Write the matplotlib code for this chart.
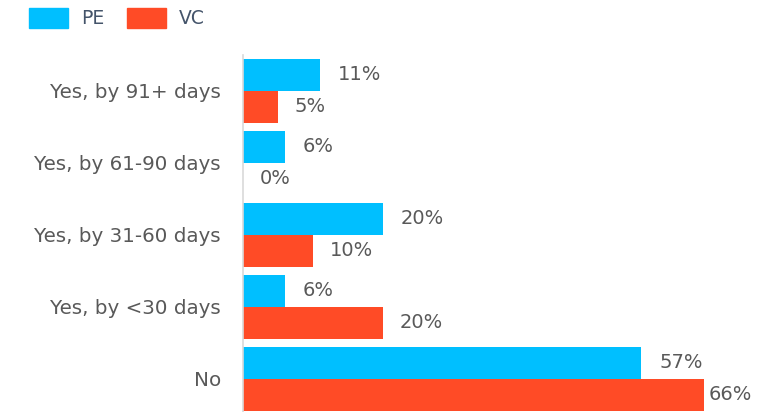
import matplotlib
matplotlib.use('Agg')
import matplotlib.pyplot as plt
from matplotlib.patches import Patch
import numpy as np

categorias = ['Yes, by 91+ days', 'Yes, by 61-90 days', 'Yes, by 31-60 days',
              'Yes, by <30 days', 'No']
pe = [11, 6, 20, 6, 57]
vc = [5, 0, 10, 20, 66]

cor_pe = '#00BFFF'
cor_vc = '#FF4B26'
cinza = '#595959'

fig = plt.figure(figsize=(7.79, 4.12), dpi=100)
ax = fig.add_axes([0.312, -0.007, 0.672, 0.874])

y = np.arange(len(categorias))
h = 0.444
ax.barh(y - h / 2, pe, height=h, color=cor_pe)
ax.barh(y + h / 2, vc, height=h, color=cor_vc)

xmax = 75
ax.set_xlim(0, xmax)
ax.set_ylim(len(categorias) - 0.5, -0.5)

# rotulos de valor; o ultimo fica encostado na borda direita
for i in range(len(categorias)):
    ax.text(pe[i] + 2.6, y[i] - h / 2, '%d%%' % pe[i], va='center', ha='left',
            fontsize=14, color=cinza)
    xv = min(vc[i] + 2.4, 66.7)
    ax.text(xv, y[i] + h / 2, '%d%%' % vc[i], va='center', ha='left',
            fontsize=14, color=cinza)

ax.set_yticks(y)
ax.set_yticklabels(categorias, fontsize=14.3, color=cinza)
ax.tick_params(axis='y', length=0, pad=16)
ax.set_xticks([])
for s in ['top', 'right', 'bottom']:
    ax.spines[s].set_visible(False)
ax.spines['left'].set_color('#D9D9D9')
ax.spines['left'].set_linewidth(1.2)

handles = [Patch(color=cor_pe, label='PE'), Patch(color=cor_vc, label='VC')]
fig.legend(handles=handles, loc='upper left', bbox_to_anchor=(0.0156, 1.022),
           ncol=2, frameon=False, fontsize=13.5, labelcolor='#44546A',
           handlelength=2.08, handleheight=1.3, handletextpad=0.7,
           columnspacing=1.2)

fig.savefig('out.png', dpi=100)
